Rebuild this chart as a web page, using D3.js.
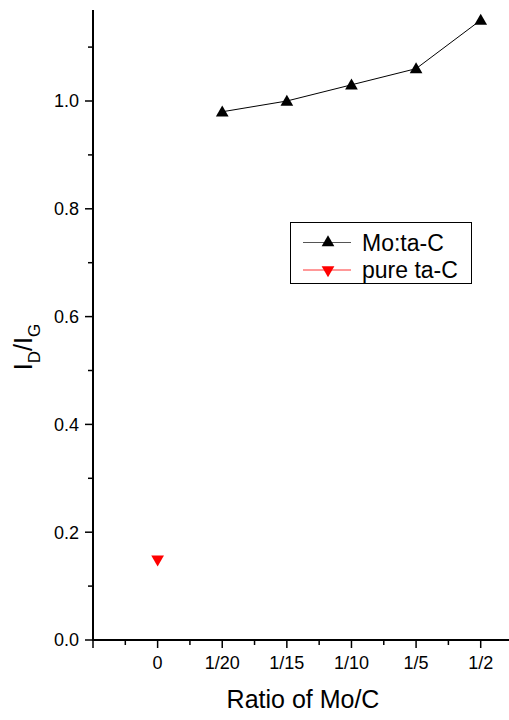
<!DOCTYPE html>
<html><head><meta charset="utf-8">
<script src="https://cdnjs.cloudflare.com/ajax/libs/d3/7.8.5/d3.min.js"></script>
<style>body{margin:0;background:#fff}svg{display:block}text{font-family:"Liberation Sans",Arial,sans-serif}</style>
</head><body>
<script>
const categories = ["0","1/20","1/15","1/10","1/5","1/2"];
const moCategories = ["1/20","1/15","1/10","1/5","1/2"];
const moValues = [0.98, 1.00, 1.03, 1.06, 1.15];
const pureCategories = ["0"];
const pureValues = [0.148];
const yTicks = [0.0, 0.2, 0.4, 0.6, 0.8, 1.0];
const seriesNames = ["Mo:ta-C", "pure ta-C"];

const W = 509, H = 720;
const svg = d3.select("body").append("svg").attr("width", W).attr("height", H);

const x0 = 93, y0 = 640;
const xs = d3.scaleLinear().domain([-1, 5]).range([93, 480.7]);
const xc = c => xs(categories.indexOf(c));
const ys = d3.scaleLinear().domain([0, 1]).range([640, 101]);
const yTop = ys.invert(10);

svg.append("line").attr("x1", x0).attr("x2", x0).attr("y1", ys(yTop)).attr("y2", y0 + 1)
  .attr("stroke", "#000").attr("stroke-width", 2);
svg.append("line").attr("x1", x0 - 1).attr("x2", W).attr("y1", y0).attr("y2", y0)
  .attr("stroke", "#000").attr("stroke-width", 2);

const yMinor = d3.range(0, 12).map(i => i * 0.1).filter(v => v <= yTop);
yMinor.forEach((v, i) => {
  const major = i % 2 === 0;
  svg.append("line").attr("x1", x0).attr("x2", x0 - (major ? 8 : 5))
    .attr("y1", ys(v)).attr("y2", ys(v)).attr("stroke", "#000").attr("stroke-width", 1.5);
});
yTicks.forEach(v => {
  svg.append("text").attr("x", 79).attr("y", ys(v)).attr("dy", "0.36em")
    .attr("text-anchor", "end").attr("font-size", 18).text(v.toFixed(1));
});

const xIdx = d3.range(-2, 13).map(i => i * 0.5).filter(v => xs(v) <= W);
xIdx.forEach(v => {
  const major = Number.isInteger(v);
  svg.append("line").attr("x1", xs(v)).attr("x2", xs(v)).attr("y1", y0).attr("y2", y0 + (major ? 8 : 5))
    .attr("stroke", "#000").attr("stroke-width", 1.5);
});
categories.forEach(c => {
  svg.append("text").attr("x", xc(c)).attr("y", 669).attr("text-anchor", "middle")
    .attr("font-size", 18).text(c);
});

svg.append("text").attr("x", 303).attr("y", 708).attr("text-anchor", "middle")
  .attr("font-size", 25).text("Ratio of Mo/C");
const yl = svg.append("text").attr("transform", "translate(32,347) rotate(-90)")
  .attr("text-anchor", "middle").attr("font-size", 25);
yl.append("tspan").text("I");
yl.append("tspan").attr("font-size", 17).attr("dy", 8).text("D");
yl.append("tspan").attr("dy", -8).text("/I");
yl.append("tspan").attr("font-size", 17).attr("dy", 8).text("G");

const moData = moCategories.map((c, i) => ({c, v: moValues[i]}));
const line = d3.line().x(d => xc(d.c)).y(d => ys(d.v));
svg.append("path").datum(moData).attr("d", line).attr("fill", "none")
  .attr("stroke", "#000").attr("stroke-width", 1);
const triUp = d3.symbol().type(d3.symbolTriangle).size(70);
svg.selectAll(".mo").data(moData).enter().append("path")
  .attr("d", triUp).attr("transform", d => `translate(${xc(d.c)},${ys(d.v) + 1})`).attr("fill", "#000");
const pureData = pureCategories.map((c, i) => ({c, v: pureValues[i]}));
svg.selectAll(".pure").data(pureData).enter().append("path")
  .attr("d", triUp).attr("transform", d => `translate(${xc(d.c)},${ys(d.v) - 1}) rotate(180)`).attr("fill", "#ff0000");

const lg = svg.append("g");
lg.append("rect").attr("x", 290.5).attr("y", 222.5).attr("width", 181).attr("height", 61)
  .attr("fill", "#fff").attr("stroke", "#000").attr("stroke-width", 1);
const rows = [{name: seriesNames[0], color: "#000", lc: "#555", rot: 0, y: 242.5},
              {name: seriesNames[1], color: "#ff0000", lc: "#ff3333", rot: 180, y: 270}];
rows.forEach(r => {
  lg.append("line").attr("x1", 303).attr("x2", 351).attr("y1", r.y).attr("y2", r.y)
    .attr("stroke", r.lc).attr("stroke-width", 1);
  lg.append("path").attr("d", triUp).attr("transform", `translate(328,${r.y}) rotate(${r.rot})`).attr("fill", r.color);
  lg.append("text").attr("x", 362).attr("y", r.y).attr("dy", "0.36em").attr("font-size", 23).text(r.name);
});
</script>
</body></html>
